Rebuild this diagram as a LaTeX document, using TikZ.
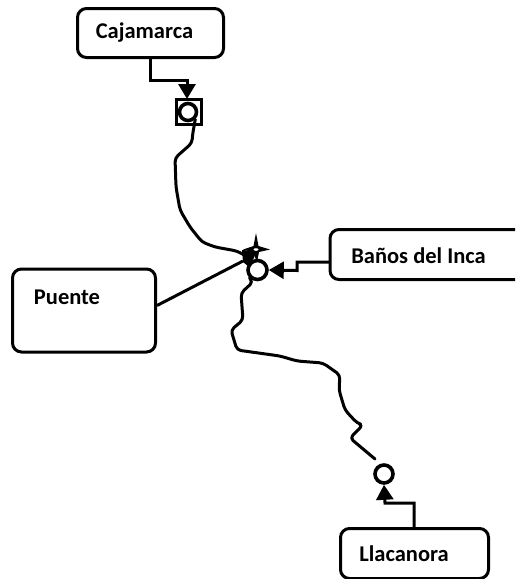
\documentclass[tikz,border=0pt]{standalone}
\usepackage{fontspec}
\setmainfont{Carlito}
\usetikzlibrary{arrows.meta,calc}
\tikzset{
  place/.style={draw=black,line width=3pt,rounded corners=9pt,inner sep=0pt,anchor=north west},
  label/.style={font=\bfseries\fontsize{22.5}{24}\selectfont,text=black,inner sep=0pt},
  ring/.style={circle,draw=black,line width=3.6pt,fill=white,inner sep=0pt},
  wire/.style={draw=black,line width=3pt},
  curvewire/.style={draw=black,line width=3pt,line cap=round,line join=round,rounded corners=4pt},
  head/.style={-{Triangle[length=15pt,width=17pt]}},
}
\begin{document}
\begin{tikzpicture}[x=1pt,y=-1pt]
\useasboundingbox (0,0) rectangle (515,579);
% boxes
\node[place,minimum width=146pt,minimum height=49pt] (caj) at (76,7) {};
\node[label] (cajt) at (144.5,33) {Cajamarca};
\node[place,minimum width=143pt,minimum height=83pt] (pue) at (11,267.5) {};
\node[label] (puet) at (67,297) {Puente};
\node[place,minimum width=148pt,minimum height=50pt] (lla) at (339,527) {};
\node[label] (llat) at (404,554) {Llacanora};
\draw[wire,rounded corners=9pt] (515,229.5) -- (330,229.5) -- (330,279.5) -- (515,279.5);
\coordinate (banl) at (330,262);
\node[label] (bant) at (418.5,256) {Baños del Inca};
% square marker and rings
\node[draw=black,line width=3.2pt,minimum size=25pt,inner sep=0pt,fill=white] (sq) at (189,112) {};
\node[ring,minimum size=17pt] (top) at (188,112) {};
\node[ring,minimum size=19pt] (cen) at (257.5,270) {};
\node[ring,minimum size=18pt] (low) at (384,474) {};
% star
\fill[black] (256,233) -- (258.5,246) -- (270,249.5) -- (259,252) -- (257,262) -- (253,252) -- (243,249.5) -- (253.5,246) -- cycle;
\fill[black] (242,250) -- (256,251) -- (254,258) -- (248,266) -- (243,262) -- cycle;
\fill[white] (256,249.5) ellipse (2.5pt and 1.3pt);
% connectors
\coordinate (a1) at (150,80);
\coordinate (a2) at (187,80);
\draw[wire,head] (a1 |- caj.south) -- (a1) -- (a2) -- (187,99);
\draw[curvewire] (top.south east) -- (192.5,135) -- (192,143) -- (175,158) -- (176,187) -- (180,210) -- (190,227) -- (202,242) -- (215,247) -- (237,251) -- (246,256);
\draw[wire] (pue.east) ++(0,-5) -- (243,261);
\coordinate (b1) at (297,262);
\coordinate (b2) at (297,270.5);
\draw[wire,head] (banl) -- (b1) -- (b2) -- (cen.east);
\draw[curvewire] (cen.south west) -- (253,282) -- (241,293) -- (243,320) -- (231,330) -- (237,350) -- (280,356) -- (297,361) -- (323,363) -- (340,375) -- (339,390) -- (345,410) -- (357,423) -- (363,425) -- (350,438) -- (375,459);
\coordinate (c1) at (414,503);
\coordinate (c2) at (385,503);
\draw[wire,head] (c1 |- lla.north) -- (c1) -- (c2) -- (low.south);
\end{tikzpicture}
\end{document}
